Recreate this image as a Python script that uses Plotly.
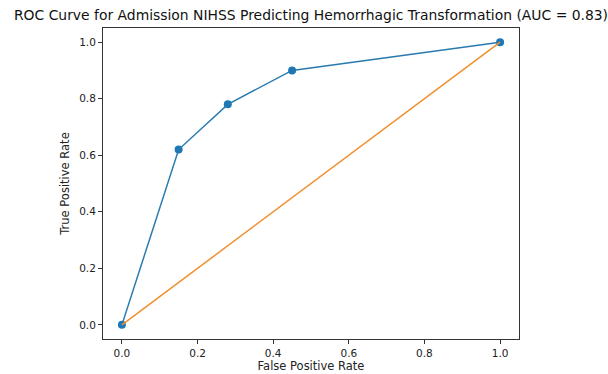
import plotly.graph_objects as go

fpr = [0.0, 0.15, 0.28, 0.45, 1.0]
tpr = [0.0, 0.62, 0.78, 0.90, 1.0]
diag_x = [0.0, 1.0]
diag_y = [0.0, 1.0]
ticks = [0.0, 0.2, 0.4, 0.6, 0.8, 1.0]
tick_text = ["0.0", "0.2", "0.4", "0.6", "0.8", "1.0"]
title = "ROC Curve for Admission NIHSS Predicting Hemorrhagic Transformation (AUC = 0.83)"

fig = go.Figure()
fig.add_trace(go.Scatter(x=fpr, y=tpr, mode="lines+markers",
                         line=dict(color="#2a7ab0", width=1.5),
                         marker=dict(color="#1f77b4", size=8)))
fig.add_trace(go.Scatter(x=diag_x, y=diag_y, mode="lines",
                         line=dict(color="#f28e2b", width=1.5)))

font = "DejaVu Sans"
axis_common = dict(showgrid=False, zeroline=False, showline=True, linecolor="#333",
                   linewidth=1, mirror=True, ticks="outside", ticklen=4,
                   tickcolor="#333", tickvals=ticks, ticktext=tick_text, automargin=False,
                   tickfont=dict(family=font, size=10.5, color="#222"))
fig.update_layout(
    width=608, height=374,
    margin=dict(l=103, r=89, t=28, b=35),
    paper_bgcolor="white", plot_bgcolor="white",
    showlegend=False,
    title=dict(text=title, x=(103 + 519) / 2 / 608, xanchor="center", y=1 - 15 / 374,
               yanchor="middle", automargin=False,
               font=dict(family=font, size=13.9, color="#111")),
    xaxis=dict(range=[-0.05, 1.05], title=dict(text="False Positive Rate", standoff=3,
               font=dict(family=font, size=11.5, color="#222")), **axis_common),
    yaxis=dict(range=[-0.05, 1.05], title=dict(text="True Positive Rate", standoff=7,
               font=dict(family=font, size=11.5, color="#222")), **axis_common),
)
fig.write_html("out.html", config={"displayModeBar": False},
               post_script="document.body.style.margin='0';document.body.style.overflow='hidden';")
